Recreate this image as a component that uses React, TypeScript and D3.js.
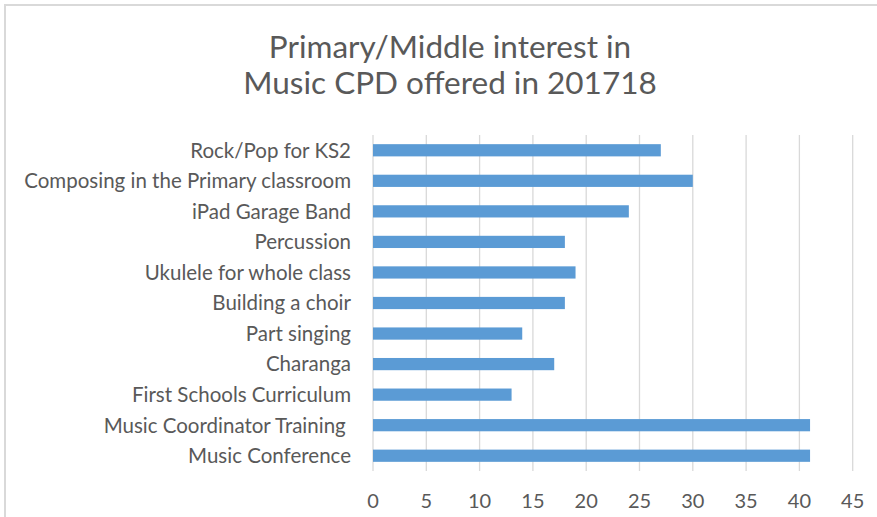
import { useEffect, useRef } from 'react';
import * as d3 from 'd3';

const categories = [
  'Rock/Pop for KS2',
  'Composing in the Primary classroom',
  'iPad Garage Band',
  'Percussion',
  'Ukulele for whole class',
  'Building a choir',
  'Part singing',
  'Charanga',
  'First Schools Curriculum',
  'Music Coordinator Training ',
  'Music Conference',
];
const values = [27, 30, 24, 18, 19, 18, 14, 17, 13, 41, 41];
const xTicks = [0, 5, 10, 15, 20, 25, 30, 35, 40, 45];
const titleLines = ['Primary/Middle interest in', 'Music CPD offered in 201718'];

const W = 877;
const H = 517;
const FONT = 'Lato, "Open Sans", sans-serif';
const TEXT = '#595959';
const GRID = '#D9D9D9';
const BAR = '#5B9BD5';

export default function App() {
  const svgRef = useRef<SVGSVGElement>(null);

  useEffect(() => {
    if (!svgRef.current) return;
    const svg = d3.select(svgRef.current);
    svg.selectAll('*').remove();

    const plot = { left: 373, right: 852.7, top: 135, bottom: 471 };

    // chart frame (cut off at right/bottom like the screenshot)
    svg.append('rect')
      .attr('x', 5).attr('y', 5)
      .attr('width', W + 20).attr('height', H + 20)
      .attr('fill', '#fff')
      .attr('stroke', GRID)
      .attr('stroke-width', 2);

    const x = d3.scaleLinear().domain([0, 45]).range([plot.left, plot.right]);
    const y = d3.scaleBand<string>()
      .domain(categories)
      .range([plot.top, plot.bottom])
      .paddingInner(0.6)
      .paddingOuter(0.3);

    // gridlines
    svg.append('g')
      .selectAll('line')
      .data(xTicks)
      .enter()
      .append('line')
      .attr('x1', d => x(d)).attr('x2', d => x(d))
      .attr('y1', plot.top).attr('y2', plot.bottom)
      .attr('stroke', GRID)
      .attr('stroke-width', 1.3);

    // bars
    svg.append('g')
      .selectAll('rect')
      .data(categories)
      .enter()
      .append('rect')
      .attr('x', x(0))
      .attr('y', d => y(d) as number)
      .attr('width', (_, i) => x(values[i]) - x(0))
      .attr('height', y.bandwidth())
      .attr('fill', BAR);

    // category labels
    svg.append('g')
      .selectAll('text')
      .data(categories)
      .enter()
      .append('text')
      .attr('x', 351)
      .attr('y', d => (y(d) as number) + y.bandwidth() / 2)
      .attr('dy', '0.36em')
      .attr('text-anchor', 'end')
      .style('white-space', 'pre')
      .attr('font-family', FONT)
      .attr('font-size', 20.5)
      .attr('fill', TEXT)
      .text(d => d);

    // x tick labels
    svg.append('g')
      .selectAll('text')
      .data(xTicks)
      .enter()
      .append('text')
      .attr('x', d => x(d))
      .attr('y', 507.5)
      .attr('text-anchor', 'middle')
      .attr('font-family', FONT)
      .attr('font-size', 20)
      .attr('fill', TEXT)
      .text(d => d);

    // title
    svg.append('g')
      .selectAll('text')
      .data(titleLines)
      .enter()
      .append('text')
      .attr('x', 450)
      .attr('y', (_, i) => 58 + i * 36)
      .attr('text-anchor', 'middle')
      .attr('font-family', FONT)
      .attr('font-size', 31.5)
      .attr('fill', TEXT)
      .text(d => d);
  }, []);

  return (
    <div style={{ position: 'fixed', left: 0, top: 0, background: '#fff' }}>
      <svg ref={svgRef} width={W} height={H} style={{ display: 'block' }} />
    </div>
  );
}
